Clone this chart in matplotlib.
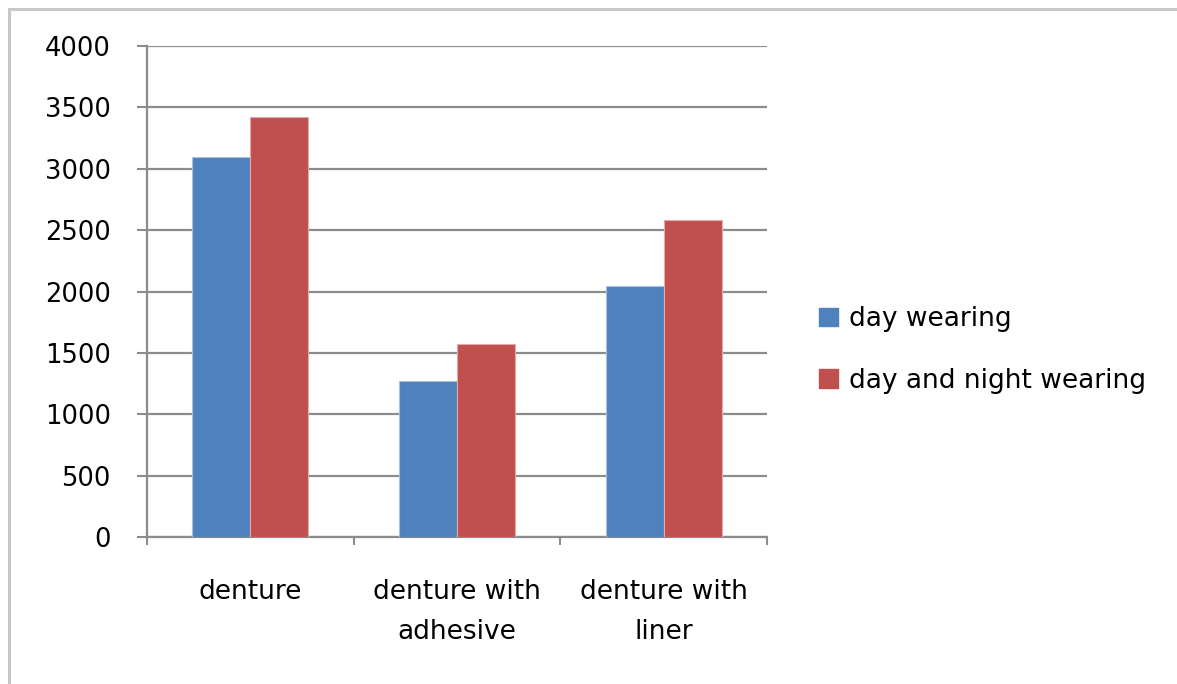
import matplotlib
matplotlib.use("Agg")
import matplotlib.pyplot as plt
from matplotlib.lines import Line2D
from matplotlib.patches import Patch
import numpy as np

categories = ["denture", "denture with\nadhesive", "denture with\nliner"]
series = ["day wearing", "day and night wearing"]
day_wearing = [3095, 1270, 2045]
day_night_wearing = [3425, 1575, 2580]
y_ticks = [0, 500, 1000, 1500, 2000, 2500, 3000, 3500, 4000]

blue = "#4F81BD"
red = "#C0504D"
grid_c = "#8c8c8c"

W, H = 1177, 684
fig = plt.figure(figsize=(W / 100, H / 100), dpi=100)
ax = fig.add_axes([147 / W, (H - 537) / H, 620 / W, 491 / H])

x = np.arange(len(categories))
bw = 0.28
ax.bar(x - bw / 2, day_wearing, bw, color=blue, edgecolor="#a9c1e0", linewidth=0.8, zorder=3)
ax.bar(x + bw / 2, day_night_wearing, bw, color=red, edgecolor="#e6a9a8", linewidth=0.8, zorder=3)

ax.set_xlim(-0.5, 2.5)
ax.set_ylim(0, 4000)
ax.set_yticks(y_ticks)
ax.set_yticklabels([str(v) for v in y_ticks])
ax.yaxis.grid(True, color=grid_c, linewidth=1.6, zorder=0)

ax.set_xticks(x)
ax.set_xticklabels(categories, linespacing=1.7)
ax.set_xticks([-0.5, 0.5, 1.5, 2.5], minor=True)
ax.tick_params(axis="x", which="major", length=0, pad=30, labelsize=19)
ax.tick_params(axis="x", which="minor", length=6, width=1.5, color=grid_c)
ax.tick_params(axis="y", length=7, width=1.5, color=grid_c, pad=19, labelsize=18.5)

for side in ["top", "right"]:
    ax.spines[side].set_visible(False)
for side in ["left", "bottom"]:
    ax.spines[side].set_color(grid_c)
    ax.spines[side].set_linewidth(1.6)

handles = [Patch(facecolor=blue, edgecolor=blue), Patch(facecolor=red, edgecolor=red)]
fig.legend(handles, series, loc="center left",
           bbox_to_anchor=(819 / W, (H - 350) / H), frameon=False,
           fontsize=19, handlelength=0.72, handleheight=0.72,
           handletextpad=0.4, labelspacing=1.35, borderpad=0, borderaxespad=0)

# outer chart border
fig.add_artist(Line2D([9 / W, 9 / W], [0, (H - 9) / H], color="#c8c8c8", linewidth=2.2))
fig.add_artist(Line2D([9 / W, 1], [(H - 9) / H, (H - 9) / H], color="#c8c8c8", linewidth=2.2))

fig.savefig("out.png", dpi=100)
